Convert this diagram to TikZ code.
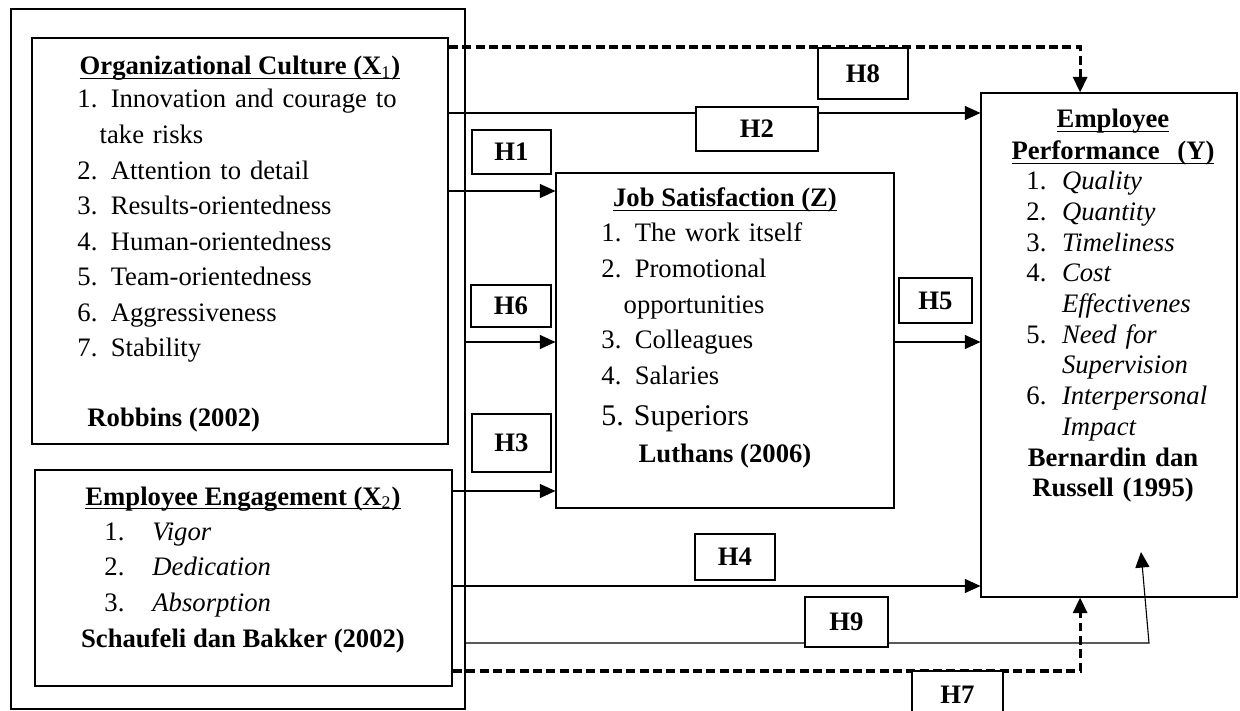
\documentclass[tikz,border=0pt]{standalone}
\usepackage{fontspec}
\setmainfont{Liberation Serif}
\usepackage{tikz}
\usetikzlibrary{arrows.meta}
\usetikzlibrary{positioning,calc}
\newcommand{\ulhead}[1]{\underline{\smash{#1}}}

\begin{document}
\begin{tikzpicture}[x=0.45pt,y=-0.45pt,
    varbox/.style={draw,line width=0.9pt,inner sep=0pt},
    hyp/.style={draw,line width=0.9pt,fill=white,inner sep=0pt,
                font=\fontsize{12}{14}\selectfont\bfseries},
    arr/.style={line width=0.5pt,-{Triangle[length=7pt,width=6.3pt]}},
    dasharr/.style={line width=1.4pt,dash pattern=on 4pt off 2pt,
                    -{Triangle[length=7pt,width=6.3pt]}},
    txt/.style={inner sep=0pt,align=left,font=\fontsize{12}{16}\selectfont},
    head/.style={inner sep=0pt,font=\fontsize{12}{16}\selectfont\bfseries}]
    \useasboundingbox (0,0) rectangle (1240,711);
    % variable boxes
    \node[draw,line width=0.7pt,minimum width=204.3pt,minimum height=315pt,
          inner sep=0pt] (outer) at (238,359) {};
    \node[varbox,minimum width=187.2pt,minimum height=182.7pt] (x1) at (240,241) {};
    \node[varbox,minimum width=187.65pt,minimum height=97.2pt] (x2) at (243.5,578) {};
    \node[varbox,line width=0.5pt,minimum width=152.1pt,minimum height=150.75pt]
          (js) at (725,340.5) {};
    \node[varbox,line width=0.5pt,minimum width=115.2pt,minimum height=226.8pt]
          (y) at (1109,345) {};
    % paths
    \draw[dasharr] ([yshift=-4.5pt]x1.north east) -| ([xshift=-13pt]y.north);
    \draw[arr] (x1.east |- 0,113) -- (y.west |- 0,113);
    \draw[arr] (x1.east |- 0,191) -- (js.west |- 0,191);
    \draw[arr] (outer.east |- 0,342) -- (js.west |- 0,342);
    \draw[arr] (js.east |- 0,342) -- (y.west |- 0,342);
    \draw[arr] (x2.east |- 0,491) -- (js.west |- 0,491);
    \draw[arr] (x2.east |- 0,586) -- (y.west |- 0,586);
    \coordinate (h9bend) at (1149,643);
    \coordinate (h9tip) at (1141,552);
    \draw[arr] (outer.east |- h9bend) -- (h9bend) -- (h9tip);
    \draw[dasharr] (x2.east |- 0,671) -| ([xshift=-13pt]y.south);
    % hypotheses
    \node[hyp,minimum width=40.5pt,minimum height=22.95pt] (h8) at (863,73.5) {H8};
    \node[hyp,minimum width=54.9pt,minimum height=19.8pt] (h2) at (757,129) {H2};
    \node[hyp,minimum width=35.55pt,minimum height=19.8pt] (h1) at (511.5,152) {H1};
    \node[hyp,minimum width=36pt,minimum height=18.9pt] (h6) at (511,306) {H6};
    \node[hyp,minimum width=32.85pt,minimum height=20.25pt] (h5) at (935.5,300.5) {H5};
    \node[hyp,minimum width=35.55pt,minimum height=26.1pt] (h3) at (511.5,443) {H3};
    \node[hyp,minimum width=36pt,minimum height=20.7pt] (h4) at (735,557) {H4};
    \node[hyp,minimum width=37.35pt,minimum height=22.5pt] (h9) at (846.5,622) {H9};
    \node[hyp,minimum width=40.95pt,minimum height=21.6pt] (h7) at (957.5,695) {H7};
    % organizational culture
    \node[head,anchor=base] (x1head) at (240,75)
          {\ulhead{Organizational Culture (X\textsubscript{\mdseries 1})}};
    \node[txt,anchor=base west,text width=180pt] (x1list) at (77,108)
          {1. Innovation and courage to\\\hspace*{10pt}take risks\\2. Attention to detail\\
           3. Results-orientedness\\4. Human-orientedness\\5. Team-orientedness\\
           6. Aggressiveness\\7. Stability};
    \node[head,anchor=base west] (x1src) at (87,427) {Robbins (2002)};
    % employee engagement
    \node[head,anchor=base] (x2head) at (243,505)
          {\ulhead{Employee Engagement (X\textsubscript{\mdseries 2})}};
    \node[txt,anchor=base west,text width=120pt] (x2list) at (104,540)
          {\makebox[21.6pt][l]{1.}\textit{Vigor}\\\makebox[21.6pt][l]{2.}\textit{Dedication}\\
           \makebox[21.6pt][l]{3.}\textit{Absorption}};
    \node[head,anchor=base] (x2src) at (243,647) {Schaufeli dan Bakker (2002)};
    % job satisfaction
    \node[head,anchor=base] (jshead) at (725,207) {\ulhead{Job Satisfaction (Z)}};
    \node[txt,anchor=base west,text width=130pt] (jslist) at (601,242)
          {1. The work itself\\2. Promotional\\\hspace*{10pt}opportunities\\3. Colleagues\\4. Salaries};
    \node[txt,anchor=base west,font=\fontsize{13.5}{16}\selectfont] (jsfive) at (601,425)
          {5. Superiors};
    \node[head,anchor=base] (jssrc) at (725,462) {Luthans (2006)};
    % employee performance
    \node[head,anchor=base,text width=110pt,align=center,
          font=\fontsize{12}{14.4}\selectfont\bfseries] (yhead) at (1113,128)
          {\ulhead{Employee}\\\ulhead{Performance\ \ (Y)}};
    \node[txt,anchor=base west,text width=100pt,font=\fontsize{12}{13.8}\selectfont]
          (ylist) at (1026,190)
          {\makebox[16pt][l]{1.}\textit{Quality}\\\makebox[16pt][l]{2.}\textit{Quantity}\\
           \makebox[16pt][l]{3.}\textit{Timeliness}\\\makebox[16pt][l]{4.}\textit{Cost}\\
           \hspace*{16pt}\textit{Effectivenes}\\\makebox[16pt][l]{5.}\textit{Need for}\\
           \hspace*{16pt}\textit{Supervision}\\\makebox[16pt][l]{6.}\textit{Interpersonal}\\
           \hspace*{16pt}\textit{Impact}};
    \node[head,anchor=base,text width=110pt,align=center,
          font=\fontsize{12}{13.5}\selectfont\bfseries] (ysrc) at (1113,466)
          {Bernardin dan\\Russell (1995)};
\end{tikzpicture}
\end{document}
